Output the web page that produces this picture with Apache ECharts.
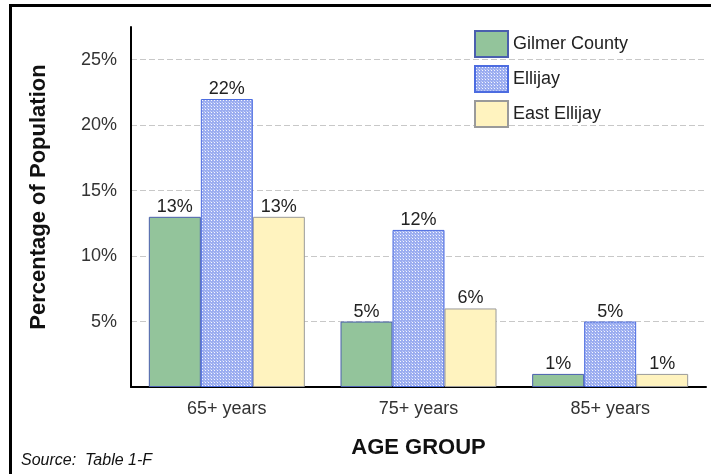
<!DOCTYPE html>
<html>
<head>
<meta charset="utf-8">
<script src="https://cdn.jsdelivr.net/npm/echarts@6/dist/echarts.min.js"></script>
<style>
html,body{margin:0;padding:0;background:#fff;}
#chart{width:711px;height:474px;}
</style>
</head>
<body>
<div id="chart"></div>
<script>
var categories = ['65+ years', '75+ years', '85+ years'];
var seriesNames = ['Gilmer County', 'Ellijay', 'East Ellijay'];
var gilmer = [13, 5, 1];
var ellijay = [22, 12, 5];
var eastEllijay = [13, 6, 1];
var yTicks = [0, 5, 10, 15, 20, 25];

var FONT = '"Liberation Sans", Arial, sans-serif';

function makePattern() {
  var c = document.createElement('canvas');
  c.width = 3; c.height = 3;
  var ctx = c.getContext('2d');
  ctx.fillStyle = '#9badf0';
  ctx.fillRect(0, 0, 3, 3);
  ctx.fillStyle = '#f4f6fe';
  ctx.fillRect(1, 1, 1, 1);
  ctx.fillStyle = '#c3cdf6';
  ctx.fillRect(0, 0, 1, 1);
  return c;
}

var chart = echarts.init(document.getElementById('chart'), null, {renderer: 'canvas'});

var labelCfg = {
  show: true, position: 'top', distance: 1,
  formatter: '{c}%', color: '#222', fontSize: 18, fontFamily: FONT
};

var option = {
  backgroundColor: '#fff',
  animation: false,
  grid: {left: 131, right: 5, top: 27, bottom: 87, containLabel: false},
  legend: {
    orient: 'vertical', left: 469, top: 25, icon: 'rect',
    itemWidth: 33, itemHeight: 26, itemGap: 7,
    data: seriesNames,
    textStyle: {fontSize: 18, color: '#222', fontFamily: FONT}
  },
  xAxis: {
    type: 'category', data: categories,
    axisLine: {lineStyle: {color: '#000', width: 2}},
    axisTick: {show: false},
    axisLabel: {fontSize: 18, color: '#333', fontFamily: FONT, margin: 13},
    name: 'AGE GROUP', nameLocation: 'middle', nameGap: 50,
    nameTextStyle: {fontSize: 22, fontWeight: 'bold', color: '#111', fontFamily: FONT}
  },
  yAxis: {
    type: 'value', min: 0, max: 27.5, interval: 5,
    axisLine: {show: true, lineStyle: {color: '#000', width: 2}},
    axisTick: {show: false},
    axisLabel: {
      fontSize: 18, color: '#333', fontFamily: FONT, margin: 14,
      showMaxLabel: false, showMinLabel: false,
      formatter: function (v) { return yTicks.indexOf(v) >= 0 ? v + '%' : ''; }
    },
    splitLine: {show: true, showMaxLine: false, showMinLine: false,
      lineStyle: {color: '#c8c8c8', type: [6, 3], width: 1}},
    name: 'Percentage of Population', nameLocation: 'middle', nameGap: 81, nameRotate: 90,
    nameTextStyle: {fontSize: 22, fontWeight: 'bold', color: '#111', fontFamily: FONT, padding: [0, 0, 0, 20]}
  },
  series: [
    {
      name: seriesNames[0], type: 'bar', data: gilmer, barWidth: 52, barGap: '0%',
      itemStyle: {color: '#93c49b', borderColor: '#4a5fae', borderWidth: 1},
      label: labelCfg
    },
    {
      name: seriesNames[1], type: 'bar', data: ellijay, barWidth: 52, barGap: '0%',
      itemStyle: {color: {image: makePattern(), repeat: 'repeat'}, borderColor: '#4c6ce0', borderWidth: 1},
      label: labelCfg
    },
    {
      name: seriesNames[2], type: 'bar', data: eastEllijay, barWidth: 52, barGap: '0%',
      itemStyle: {color: '#fff3bf', borderColor: '#9a9a9a', borderWidth: 1},
      label: labelCfg
    }
  ],
  graphic: [
    {type: 'rect', shape: {x: 9, y: 4, width: 702, height: 3}, style: {fill: '#000'}, silent: true},
    {type: 'rect', shape: {x: 9, y: 4, width: 3, height: 470}, style: {fill: '#000'}, silent: true},
    {type: 'text', left: 21, top: 453, style: {text: 'Source:  Table 1-F', fontSize: 16, fontStyle: 'italic', fill: '#111', fontFamily: FONT}}
  ]
};
chart.setOption(option);
</script>
</body>
</html>
